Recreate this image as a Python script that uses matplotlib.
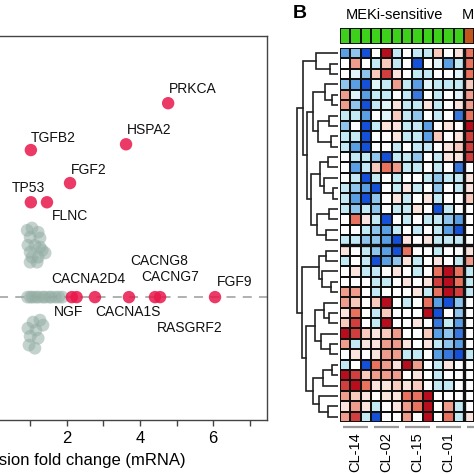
import numpy as np
import matplotlib
matplotlib.use("Agg")
import matplotlib.pyplot as plt
from matplotlib.colors import LinearSegmentedColormap, ListedColormap

plt.rcParams['font.family'] = ['Liberation Sans', 'DejaVu Sans']

# ---------------- Panel A data ----------------
red_x = [4.77, 3.62, 1.02, 2.09, 1.02, 1.46, 2.14, 2.27, 2.77, 3.70, 4.41, 4.55, 6.05]
red_y = [5.05, 3.98, 3.83, 2.97, 2.47, 2.47, 0, 0, 0, 0, 0, 0, 0]

gray_x = [1.05, 0.92, 1.22, 1.00, 1.27, 0.94, 1.13, 1.27, 1.00, 1.33, 1.05, 1.22, 1.41, 1.00, 1.19,
          0.93, 1.01, 1.07, 1.16, 1.23, 1.34, 1.41, 1.52, 1.58, 1.69, 1.78, 1.88,
          1.08, 1.27, 0.94, 1.16, 1.35, 1.00, 1.22, 0.97, 1.13]
gray_y = [1.80, 1.74, 1.69, 1.56, 1.54, 1.35, 1.35, 1.30, 1.17, 1.22, 1.04, 1.04, 1.15, 0.91, 0.91,
          0, 0, 0, 0, 0, 0, 0, 0, 0, 0, 0, 0,
          -0.65, -0.60, -0.81, -0.86, -0.73, -1.02, -1.07, -1.25, -1.33]

label_names = ["PRKCA", "HSPA2", "TGFB2", "FGF2", "TP53", "FLNC", "CACNA2D4", "CACNG8",
               "CACNG7", "FGF9", "NGF", "CACNA1S", "RASGRF2"]
label_x = [4.80, 3.65, 1.02, 2.12, 0.51, 1.60, 1.57, 3.73, 4.03, 6.11, 1.65, 2.77, 4.47]
label_y = [5.42, 4.35, 4.14, 3.31, 2.84, 2.11, 0.47, 0.94, 0.52, 0.39, -0.39, -0.39, -0.81]

x_major = [2, 4, 6]
x_minor = [1, 3, 5, 7]

# ---------------- Panel B data ----------------
cell_lines = ["CL-14", "CL-02", "CL-15", "CL-01"]
col_groups = ["MEKi-sensitive"] * 12 + ["MEKi-resistant"]
heat_values = [
    [-2, -1.5, -3, 0, 3, -1, 0, -1, -1, 1, 0, 0.5, 2],
    [0, 1.5, 0, -1, 1, -1, 0, -3, 0, -0.5, -2, -1, 2],
    [0, -0.5, -1.5, 1, 2.5, 0.5, 0, -1, -1, 0, 0, -0.5, 2],
    [-1.5, -2, -3, -0.5, -1, 1.5, -1, -2, -0.5, -1, -1, -1, 1],
    [1.5, -0.5, -2, -1, -1, 0, -1, -2.5, 0, -1, 0, -0.5, 1.5],
    [1.5, -1.5, -3, -1, -0.5, 0.5, -1, -1, 0.5, -1, 0, 0.5, 1.5],
    [-1, -1, -2, 0, -0.5, 1, -1, -1.5, 0, -1, 0, -2.5, 2],
    [-1.5, 0, -3, -1, 0.5, 0.5, -1, -1, -2, 0, 0.5, 0, 3],
    [-1, -1, -3, 0, 0, 0.5, -1, -1, -2, 1, 0, 0.5, 2.5],
    [-1, -2, -3, 0, 0, -1, 0, -1, -1, 0, 0.5, 1, 2.5],
    [0, -1, -1, -1.5, -3, -1, -1, -1.5, 0, -1, 0.5, 0.5, 2.5],
    [0, -2, -1, 1, 2, 1.5, -1, -1, 0, -1, 0, -2.5, 0],
    [0, -1, -3, -1, 0, -1, 0, 0, -1, -1.5, -1, -1, 0.5],
    [-1, -1.5, -2, -3, 0, -1, 0.5, -1, 0, -1.5, 0, -1, 0.5],
    [-1, -2, -3, -1.5, 0, 0.5, -1, 0, 0.5, -1, 0, 0, 1],
    [-1, -1.5, -1, -1.5, 0, -1, -1, 0.5, 0, -3, -1, 0, 0],
    [0, 2, 0.5, -1, -3, 0, -1, 0, -1, -1, -1.5, -2, 0],
    [0, 0, -1, -1.5, -2, -1, 0, -1, 0, -1, -2, -3, 0],
    [-1, -1, -1.5, -1.5, -2, -3, 0.5, 0, 0.5, -1, -1, -1, 0],
    [0.5, 0, -1, -1.5, -2, -3, 2, 0, 0, -1, 0, 0, 0.5],
    [-1, 0, -1, -3, -2, -1.5, 0.5, -1, 0, 0.5, 0, -1, 1.5],
    [0, 0.5, -1, -1, 0, 0.5, 0, -1, 0, 2, 3, 2, -1],
    [0, 0, 0, -1, -1, 0, 0.5, 0, 0.5, 2.5, 3, 2, -1],
    [1.5, 1.5, 0, -1, 0, 0, 0, 0.5, -1, 2, 3, 2.5, -1],
    [1.5, 1, 0, 1, 3, 0, -1, 0, 2, -2, -3, -1.5, 0],
    [0.5, 2, 0, -1, 1, 0, 0, 0, 3, -3, 0, -1.5, 0],
    [1, 2.5, 0, -1, 3, 0, 0, 0.5, 0, -2.5, -1, -2, 0],
    [3, 2.5, 1, 0.5, 1, 1.5, 0, 0, 1, -2, -1.5, -2.5, 0],
    [1.5, -1, 0.5, 0.5, 1.5, 1.5, 0.5, 0, 0.5, -1, -1.5, -2, 0],
    [0, 0.5, 0, 0.5, 1.5, 1.5, -1, -1, 0, -2, -2.5, -3, -1],
    [-1, 0, -3, 2, 1.5, 0.5, 3, 1.5, 0, -1, 0.5, 0, 0],
    [3, 2.5, 1, 1.5, 1.5, 1.5, 0, 0.5, 0, -1, 0, 0, 0],
    [2.5, 3, 2, 0.5, 0.5, 1, 0.5, 1, 0, -1, -1, 0, 0],
    [1.5, 1, 0.5, 0, 0.5, 0.5, 2, 2, 3, 0, 0, 0, 0],
    [0.5, 1.5, 0.5, -1, 0, 0.5, 1.5, 2, 3, 0, 1.5, -1, 0],
    [1.5, 2.5, -1, -3, 0, 0, 1.5, 0, 3, 0, 2, -1, 0.5],
]

# row dendrogram: (merge height, left, right); leaves are row indices
row_tree = (41,
            (35,
             (22, 0, (8, 1, 2)),
             (31,
              (25, (13, 3, (6, 4, 5)), (20, (9, 6, 7), (7, 8, 9))),
              (27, (18, (10, 10, 11), (14, 12, (5, 13, 14))), (21, (9, 15, 16), (12, 17, 18))))),
            (36,
             (19, (12, 19, 20), (16, 21, (7, 22, 23))),
             (32,
              (23, (14, 24, (9, 25, 26)), (17, 27, (8, 28, 29))),
              (25, (15, (6, 30, 31), 32), (19, 33, (10, 34, 35))))))

# ---------------- figure ----------------
W = H = 474.0
fig = plt.figure(figsize=(4.74, 4.74), dpi=100)


def rect(x0, y0, x1, y1):
    return [x0 / W, 1 - y1 / H, (x1 - x0) / W, (y1 - y0) / H]


# ----- Panel A -----
axA = fig.add_axes(rect(-135, 36, 267, 420))
axA.set_xlim(-3.51, 7.47)
axA.set_ylim(-3.2, 6.8)
axA.axhline(0, color='#aaaaaa', lw=1.3, dashes=(5, 4), zorder=1)
axA.scatter(gray_x, gray_y, s=85, color='#93ada3', alpha=0.55, edgecolors='none', zorder=2)
axA.scatter(red_x, red_y, s=80, color='#e8174a', alpha=0.85, edgecolors='none', zorder=3)
for name, lx, ly in zip(label_names, label_x, label_y):
    axA.text(lx, ly, name, fontsize=10, ha='left', va='center', color='#111111', zorder=4)
for sp in axA.spines.values():
    sp.set_color('#444444')
    sp.set_linewidth(1.0)
axA.set_xticks(x_major)
axA.set_xticks(x_minor, minor=True)
axA.set_xticklabels([str(v) for v in x_major])
axA.tick_params(axis='x', which='both', length=4, width=1, color='#444444', labelsize=12, pad=4)
axA.set_yticks([])
axA.set_xlabel("Expression fold change (mRNA)", fontsize=12, labelpad=5)

# ----- Panel B heatmap -----
ncol = len(heat_values[0])
nrow = len(heat_values)
cw = 10.33
hx0, hx1 = 340, 340 + ncol * cw
cmap = LinearSegmentedColormap.from_list(
    'hm', [(0.0, '#1550d8'), (1 / 6, '#5b9fe3'), (2 / 6, '#c2e9f4'), (0.5, '#ffffff'),
           (4 / 6, '#f8c9bd'), (5 / 6, '#e9735f'), (1.0, '#b80d1d')])
axH = fig.add_axes(rect(hx0, 48, hx1, 422))
axH.pcolormesh(np.arange(ncol + 1), np.arange(nrow + 1), np.array(heat_values),
               cmap=cmap, vmin=-3, vmax=3, edgecolors='#111111', linewidth=1.3)
axH.set_xlim(0, ncol)
axH.set_ylim(nrow, 0)
axH.axvline(12, color='#111111', lw=2.4)
axH.axhline(19, color='#111111', lw=2.4)
axH.axis('off')

# group underline + column labels
for g, name in enumerate(cell_lines):
    axH.plot([g * 3 + 0.3, g * 3 + 2.7], [36.45, 36.45], color='#999999', lw=1.6,
             clip_on=False, solid_capstyle='butt')
    axH.text(g * 3 + 1.5, 36.95, name, rotation=90, ha='center', va='top', fontsize=10.5,
             clip_on=False)
axH.plot([12.3, 14.7], [36.45, 36.45], color='#999999', lw=1.6, clip_on=False,
         solid_capstyle='butt')

# annotation bar
axT = fig.add_axes(rect(hx0, 28, hx1, 44))
grp_code = np.array([[0 if g == "MEKi-sensitive" else 1 for g in col_groups]])
axT.pcolormesh(np.arange(ncol + 1), [0, 1], grp_code,
               cmap=ListedColormap(['#3dd11b', '#c0561b']), vmin=0, vmax=1,
               edgecolors='#111111', linewidth=1.2)
axT.set_xlim(0, ncol)
axT.set_ylim(1, 0)
axT.axis('off')

# dendrogram
axD = fig.add_axes(rect(290, 48, 338, 422))


def draw(node):
    if isinstance(node, int):
        return node + 0.5, 0
    h, l, r = node
    yl, hl = draw(l)
    yr, hr = draw(r)
    axD.plot([hl, h, h, hr], [yl, yl, yr, yr], color='#222222', lw=1.2,
             solid_joinstyle='miter')
    return (yl + yr) / 2, h


draw(row_tree)
axD.set_xlim(48, 0)
axD.set_ylim(nrow, 0)
axD.axis('off')

# titles
fig.text(394 / W, 1 - 15 / H, "MEKi-sensitive", ha='center', va='center', fontsize=10.5)
fig.text(462 / W, 1 - 15 / H, "MEKi-resistant", ha='left', va='center', fontsize=10.5)
fig.text(300 / W, 1 - 14 / H, "B", ha='center', va='center', fontsize=14, fontweight='bold')

fig.savefig("out.png", dpi=100)
